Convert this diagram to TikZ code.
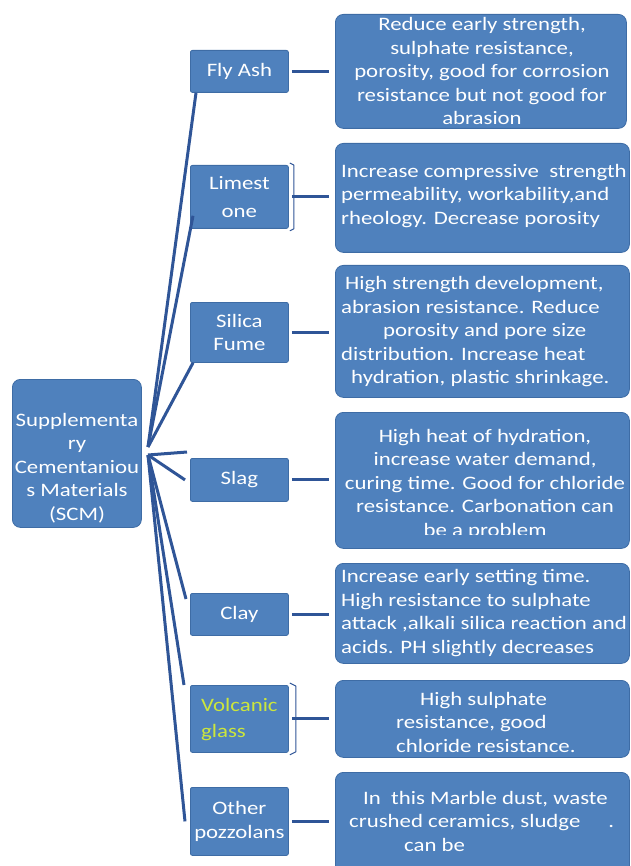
\documentclass[tikz,border=0pt]{standalone}
\usepackage{fontspec}
\setmainfont{Carlito}[FakeStretch=1.2]
\usetikzlibrary{calc}
\definecolor{boxblue}{RGB}{79,129,189}
\definecolor{edgeblue}{RGB}{62,108,165}
\definecolor{linkblue}{RGB}{47,85,151}
\definecolor{volc}{RGB}{204,230,60}
\begin{document}
\begin{tikzpicture}[x=1pt,y=-1pt,
  txt/.style={font=\fontsize{19}{23.5}\selectfont, text=white, inner sep=0pt},
  childbox/.style={fill=boxblue, draw=edgeblue, line width=0.8pt, rounded corners=2pt, minimum width=98pt, inner sep=0pt, anchor=north west},
  descbox/.style={fill=boxblue, draw=edgeblue, line width=0.8pt, rounded corners=8pt, inner sep=0pt, anchor=north west},
  link/.style={draw=linkblue, line width=3pt},
  brk/.style={draw=linkblue, line width=1pt, line join=round}]
\useasboundingbox (0,0) rectangle (630,866);

% main box
\node[descbox, minimum width=129pt, minimum height=148pt] (scm) at (12,379) {};

% child boxes
\node[childbox, minimum height=42pt] (fly) at (190,50) {};
\node[childbox, minimum height=63pt] (lime) at (190,165) {};
\node[childbox, minimum height=60pt] (sil) at (190,302) {};
\node[childbox, minimum height=43pt] (slag) at (190,458) {};
\node[childbox, minimum height=42pt] (clay) at (190,593) {};
\node[childbox, minimum height=67pt] (volg) at (190,685) {};
\node[childbox, minimum height=68pt] (oth) at (190,787) {};

% description boxes
\node[descbox, minimum width=291pt, minimum height=114pt] (d1) at (335,14) {};
\node[descbox, minimum width=294pt, minimum height=109pt] (d2) at (335,143) {};
\node[descbox, minimum width=294pt, minimum height=132pt] (d3) at (335,265) {};
\node[descbox, minimum width=294pt, minimum height=136pt] (d4) at (335,412) {};
\node[descbox, minimum width=294pt, minimum height=100pt] (d5) at (335,563) {};
\node[descbox, minimum width=294pt, minimum height=77pt] (d6) at (335,680) {};
\node[descbox, minimum width=294pt, minimum height=110pt] (d7) at (335,772) {};

% hub coordinates
\coordinate (hubA) at (148,447);
\coordinate (hubB) at (148,455);

% connectors from main box
\draw[link] (hubA) -- ([xshift=6pt]fly.south west);
\draw[link] (hubA) -- ([xshift=3pt,yshift=13pt]lime.south west);
\draw[link] (hubA) -- ([xshift=3pt]sil.south west);
\draw[link] (hubB) -- ([xshift=-3pt,yshift=6pt]slag.north west);
\draw[link] (hubB) -- ([xshift=-5pt]slag.west);
\draw[link] (hubB) -- ([xshift=-4pt,yshift=-6pt]clay.north west);
\draw[link] (hubB) -- ([xshift=-6pt]volg.north west);
\draw[link] (hubB) -- ([xshift=-5pt]oth.west);

% short connectors
\draw[link] ($(fly.east)+(3,0)$) -- ($(fly.east -| d1.west)+(-6,0)$);
\draw[link] ($(lime.east)+(3,0)$) -- ($(lime.east -| d2.west)+(-6,0)$);
\draw[link] ($(sil.east)+(3,0)$) -- ($(sil.east -| d3.west)+(-6,0)$);
\draw[link] ($(slag.east)+(3,0)$) -- ($(slag.east -| d4.west)+(-6,0)$);
\draw[link] ($(clay.east)+(3,0)$) -- ($(clay.east -| d5.west)+(-6,0)$);
\draw[link] ($(volg.east)+(3,0)$) -- ($(volg.east -| d6.west)+(-6,0)$);
\draw[link] ($(oth.east)+(3,0)$) -- ($(oth.east -| d7.west)+(-6,0)$);

% brackets
\draw[brk] ($(lime.north east)+(1,-2)$) -- ($(lime.north east)+(5,0)$) -- ($(lime.south east)+(5,0)$) -- ($(lime.south east)+(1,2)$);
\draw[brk] ($(volg.north east)+(1,-2)$) -- ($(volg.north east)+(7,1)$) -- ($(volg.south east)+(7,-1)$) -- ($(volg.south east)+(1,2)$);

% texts
\node[txt, align=center] (scmt) at (77,468) {Supplementa\\ry\\Cementaniou\\s Materials\\(SCM)};
\node[txt] (flyt) at (fly.center) {Fly Ash};
\node[txt, align=center] (limet) at (lime.center) {Limest\\[4.5pt]one};
\node[txt, align=center] (silt) at (sil.center) {Silica\\Fume};
\node[txt] (slagt) at (slag.center) {Slag};
\node[txt] (clayt) at (clay.center) {Clay};
\node[txt, align=left, text=volc, anchor=west] (volgt) at (201,720) {Volcanic\\[2.5pt]glass};
\node[txt, align=center] (otht) at (oth.center) {Other\\pozzolans};

\node[txt, align=center] (t1) at (482,71) {Reduce early strength,\\sulphate resistance,\\porosity, good for corrosion\\resistance but not good for\\abrasion};
\node[txt, align=left, anchor=west] (t2) at (341,196) {Increase compressive\ \ strength\\permeability, workability,and\\rheology. Decrease porosity};
\node[txt, align=left, anchor=west] (t3) at (341,332) {\hspace*{4pt}High strength development,\\abrasion resistance. Reduce\\\hspace*{42pt}porosity and pore size\\distribution. Increase heat\\\hspace*{10pt}hydration, plastic shrinkage.};
\begin{scope}
\clip (335,412) rectangle (630,534);
\node[txt, align=center] (t4) at (485,484) {High heat of hydration,\\increase water demand,\\curing time. Good for chloride\\resistance. Carbonation can\\be a problem};
\end{scope}
\node[txt, align=left, anchor=west] (t5) at (341,613) {Increase early setting time.\\High resistance to sulphate\\attack ,alkali silica reaction and\\acids. PH slightly decreases};
\node[txt, align=left, anchor=west] (t6) at (396,722) {\hspace*{24pt}High sulphate\\resistance, good\\chloride resistance.};
\node[txt, align=left, anchor=west] (t7) at (349,821) {\hspace*{14pt}In\ \ this Marble dust, waste\\crushed ceramics, sludge\hspace{28pt}.\\\hspace*{55pt}can be};
\end{tikzpicture}
\end{document}
